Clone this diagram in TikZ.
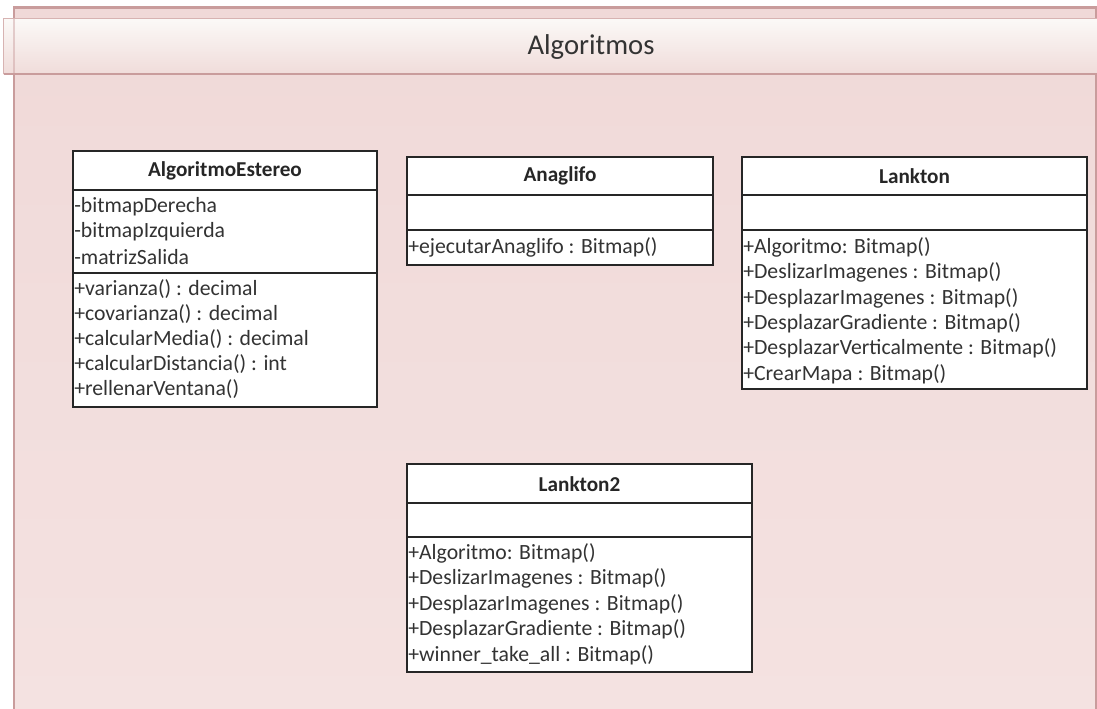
\documentclass[tikz,border=0pt]{standalone}
\usepackage{fontspec}
\setmainfont{Carlito}
\begin{document}
\begin{tikzpicture}[x=0.75pt,y=-0.75pt,
  pkgfill/.style={top color=pkgtop,bottom color=pkgbot},
  pkgline/.style={draw=pkgedge,line width=1.6pt},
  hdrline/.style={draw=hdredge,line width=1.4pt},
  classbox/.style={draw=black!85,fill=white,line width=1.1pt},
  sep/.style={draw=black!85,line width=1.1pt},
  cname/.style={font=\fontsize{15.9}{18}\selectfont\bfseries,text=black!85,inner sep=0pt},
  member/.style={font=\fontsize{16.3}{18}\selectfont,text=black!80,anchor=west,inner sep=0pt},
]
\definecolor{pkgtop}{HTML}{F0D9D8}
\definecolor{pkgbot}{HTML}{F4E2E1}
\definecolor{pkgedge}{HTML}{C99C9C}
\definecolor{hdredge}{HTML}{D7B3B2}
\definecolor{hdrtop}{HTML}{FBF9F7}
\definecolor{hdrbot}{HTML}{F0DCDA}
\useasboundingbox (0,0) rectangle (1097,708);
\clip (0,0) rectangle (1097,708);

% package frame
\fill[pkgfill] (14,7.5) rectangle (1096,715);
\draw[pkgline] (14,715) -- (14,7.5) -- (1096,7.5) -- (1096,715);

% package header tab (slightly see-through at the frame edge)
\shade[top color=hdrtop,bottom color=hdrbot] (3.5,18.5) rectangle (1110,74);
\draw[pkgline,opacity=0.45] (14,18.5) -- (14,74);
\draw[hdrline] (1110,18.5) -- (3.5,18.5) -- (3.5,74);
\draw[pkgline] (3.5,74) -- (1110,74);
\node[font=\fontsize{21.5}{24}\selectfont,text=black!80,inner sep=0pt] (pkgname) at (591,47) {Algoritmos};

% AlgoritmoEstereo
\draw[classbox] (73,151) rectangle (377,407);
\draw[sep] (73,190) -- (377,190);
\draw[sep] (73,273) -- (377,273);
\node[cname] (estereo) at (225,171) {AlgoritmoEstereo};
\node[member] (e1) at (74,207) {-bitmapDerecha};
\node[member] (e2) at (74,232) {-bitmapIzquierda};
\node[member] (e3) at (74,257) {-matrizSalida};
\node[member] (e4) at (74,289) {+varianza() : decimal};
\node[member] (e5) at (74,314) {+covarianza() : decimal};
\node[member] (e6) at (74,339) {+calcularMedia() : decimal};
\node[member] (e7) at (74,364) {+calcularDistancia() : int};
\node[member] (e8) at (74,389) {+rellenarVentana()};

% Anaglifo
\draw[classbox] (407,157) rectangle (713,265);
\draw[sep] (407,195) -- (713,195);
\draw[sep] (407,230) -- (713,230);
\node[cname] (anaglifo) at (560,176) {Anaglifo};
\node[member] (a1) at (408,247) {+ejecutarAnaglifo : Bitmap()};

% Lankton
\draw[classbox] (742,157) rectangle (1087,389);
\draw[sep] (742,195) -- (1087,195);
\draw[sep] (742,230) -- (1087,230);
\node[cname] (lankton) at (914.5,176) {Lankton};
\node[member] (l1) at (743,247) {+Algoritmo: Bitmap()};
\node[member] (l2) at (743,272) {+DeslizarImagenes : Bitmap()};
\node[member] (l3) at (743,298) {+DesplazarImagenes : Bitmap()};
\node[member] (l4) at (743,323) {+DesplazarGradiente : Bitmap()};
\node[member] (l5) at (743,348.5) {+DesplazarVerticalmente : Bitmap()};
\node[member] (l6) at (743,374) {+CrearMapa : Bitmap()};

% Lankton2
\draw[classbox] (407,464) rectangle (752,672);
\draw[sep] (407,503) -- (752,503);
\draw[sep] (407,537) -- (752,537);
\node[cname] (lankton2) at (579.5,484) {Lankton2};
\node[member] (m1) at (408,553) {+Algoritmo: Bitmap()};
\node[member] (m2) at (408,578.5) {+DeslizarImagenes : Bitmap()};
\node[member] (m3) at (408,604) {+DesplazarImagenes : Bitmap()};
\node[member] (m4) at (408,629.5) {+DesplazarGradiente : Bitmap()};
\node[member] (m5) at (408,655) {+winner\_take\_all : Bitmap()};
\end{tikzpicture}
\end{document}
